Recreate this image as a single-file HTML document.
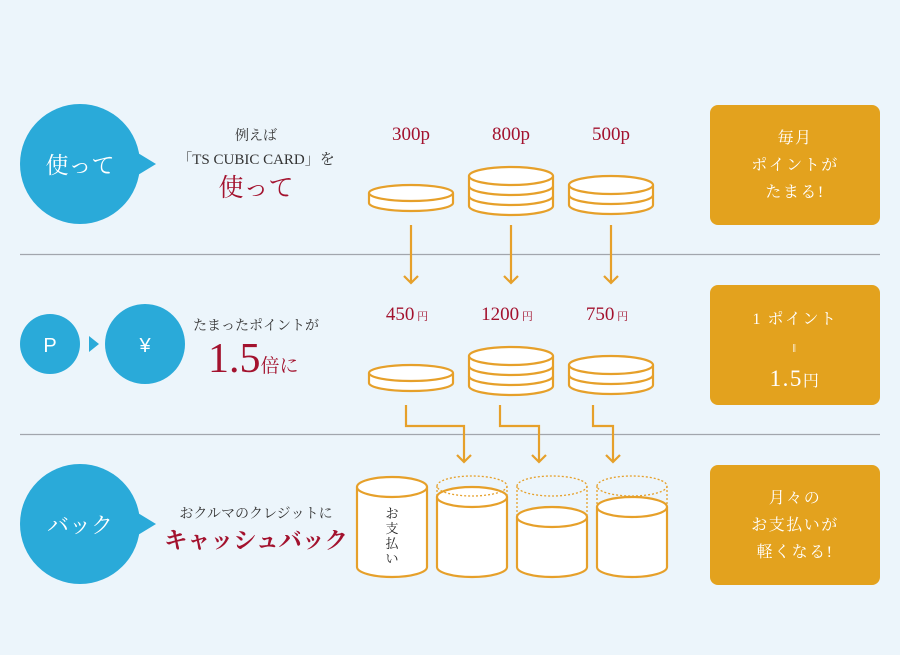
<!DOCTYPE html>
<html><head><meta charset="utf-8"><style>
html,body{margin:0;padding:0;background:#ecf5fb;}
svg{display:block;}
.s{font-family:"Liberation Serif","Noto Serif CJK SC",serif;}
.g{font-family:"Liberation Sans","Noto Sans CJK JP",sans-serif;}
</style></head><body>
<svg width="900" height="655" viewBox="0 0 900 655" xmlns="http://www.w3.org/2000/svg">
<rect width="900" height="655" fill="#ecf5fb"/>
<line x1="20" y1="254.5" x2="880" y2="254.5" stroke="#a2a6ad" stroke-width="1.2"/>
<line x1="20" y1="434.5" x2="880" y2="434.5" stroke="#a2a6ad" stroke-width="1.2"/>

<g fill="#2aaad9">
<circle cx="80" cy="164" r="60"/><polygon points="133,150 156,164 133,178"/>
<circle cx="80" cy="524" r="60"/><polygon points="133,510 156,524 133,538"/>
<circle cx="50" cy="344" r="30"/><polygon points="89,336 99,344 89,352"/>
<circle cx="145" cy="344" r="40"/>
</g>
<g fill="#fff" class="s" text-anchor="middle">
<text x="80" y="173" font-size="23">使って</text>
<text x="80" y="533" font-size="22">バック</text>
</g>
<text x="50" y="352" fill="#fff" class="g" font-size="20" text-anchor="middle">P</text>
<text x="145" y="352" fill="#fff" class="g" font-size="20" text-anchor="middle">¥</text>

<g class="s" text-anchor="middle" fill="#333">
<text x="256" y="140" font-size="14">例えば</text>
<text x="256" y="164" font-size="15">「TS CUBIC CARD」を</text>
<text x="256" y="330" font-size="14">たまったポイントが</text>
<text x="256" y="518" font-size="14">おクルマのクレジットに</text>
</g>
<g class="s" fill="#a3122e" text-anchor="middle">
<text x="256" y="196" font-size="25">使って</text>
<text x="256" y="548" font-size="23" font-weight="bold">キャッシュバック</text>
</g>
<text x="208" y="372" class="s" fill="#a3122e" font-size="42">1.5<tspan font-size="19">倍に</tspan></text>

<g class="s" fill="#a3122e" font-size="19" text-anchor="middle">
<text x="411" y="140">300p</text><text x="511" y="140">800p</text><text x="611" y="140">500p</text>
<text x="407" y="320">450<tspan font-size="11"> 円</tspan></text>
<text x="507" y="320">1200<tspan font-size="11"> 円</tspan></text>
<text x="607" y="320">750<tspan font-size="11"> 円</tspan></text>
</g>

<g fill="#fff" stroke="#e6a02a" stroke-width="2.2">
<g id="c1"><path d="M369,193 v10 a42,8 0 0 0 84,0 v-10"/><ellipse cx="411" cy="193" rx="42" ry="8"/></g>
<g id="c2"><path d="M469,176 v30 a42,9 0 0 0 84,0 v-30"/><path d="M469,186 a42,9 0 0 0 84,0 M469,196 a42,9 0 0 0 84,0" fill="none"/><ellipse cx="511" cy="176" rx="42" ry="9"/></g>
<g id="c3"><path d="M569,185 v20 a42,9 0 0 0 84,0 v-20"/><path d="M569,195 a42,9 0 0 0 84,0" fill="none"/><ellipse cx="611" cy="185" rx="42" ry="9"/></g>
<use href="#c1" y="180"/><use href="#c2" y="180"/><use href="#c3" y="180"/>
</g>

<g fill="none" stroke="#e6a02a" stroke-width="2.2">
<path d="M411,225 v58 M404,276 l7,7 l7,-7"/>
<path d="M511,225 v58 M504,276 l7,7 l7,-7"/>
<path d="M611,225 v58 M604,276 l7,7 l7,-7"/>
<path d="M406,405 v21 h58 v36 M457,455 l7,7 l7,-7"/>
<path d="M500,405 v21 h39 v36 M532,455 l7,7 l7,-7"/>
<path d="M593,405 v21 h20 v36 M606,455 l7,7 l7,-7"/>
</g>

<g stroke="#e6a02a" stroke-width="2.2" fill="#fff">
<path d="M357,487 v80 a35,10 0 0 0 70,0 v-80"/><ellipse cx="392" cy="487" rx="35" ry="10"/>
<path d="M437,497 v70 a35,10 0 0 0 70,0 v-70"/><ellipse cx="472" cy="497" rx="35" ry="10"/>
<path d="M517,517 v50 a35,10 0 0 0 70,0 v-50"/><ellipse cx="552" cy="517" rx="35" ry="10"/>
<path d="M597,507 v60 a35,10 0 0 0 70,0 v-60"/><ellipse cx="632" cy="507" rx="35" ry="10"/>
</g>
<g stroke="#e6a02a" stroke-width="1.3" fill="none" stroke-dasharray="2,2">
<ellipse cx="472" cy="486" rx="35" ry="10"/><path d="M437,486 v11 M507,486 v11"/>
<ellipse cx="552" cy="486" rx="35" ry="10"/><path d="M517,486 v31 M587,486 v31"/>
<ellipse cx="632" cy="486" rx="35" ry="10"/><path d="M597,486 v21 M667,486 v21"/>
</g>
<g class="s" fill="#222" font-size="13" text-anchor="middle">
<text x="392" y="518">お</text><text x="392" y="533">支</text><text x="392" y="548">払</text><text x="392" y="563">い</text>
</g>

<g fill="#e3a21e">
<rect x="710" y="105" width="170" height="120" rx="8"/>
<rect x="710" y="285" width="170" height="120" rx="8"/>
<rect x="710" y="465" width="170" height="120" rx="8"/>
</g>
<g class="s" fill="#fff" font-size="16" text-anchor="middle" letter-spacing="1.5">
<text x="795" y="143">毎月</text><text x="795" y="170">ポイントが</text><text x="795" y="197">たまる!</text>
<text x="795" y="324">1 ポイント</text><text x="795" y="352" font-size="12">‖</text><text x="795" y="386" font-size="23">1.5<tspan font-size="16">円</tspan></text>
<text x="795" y="503">月々の</text><text x="795" y="530">お支払いが</text><text x="795" y="557">軽くなる!</text>
</g>
</svg>
</body></html>
